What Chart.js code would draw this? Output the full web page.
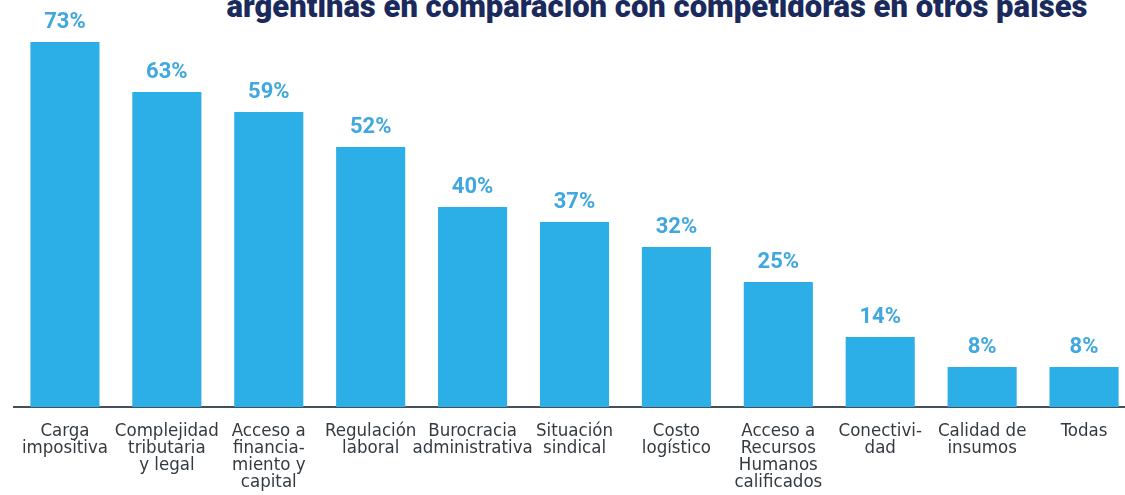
<!DOCTYPE html>
<html>
<head>
<meta charset="utf-8">
<script src="https://cdn.jsdelivr.net/npm/chart.js@4"></script>
<style>
  html, body { margin: 0; padding: 0; background: #fff; overflow: hidden; width: 1125px; height: 495px; }
  #titulo {
    position: absolute; top: -9px; left: 657px; transform: translateX(-50%);
    white-space: nowrap; font-family: Roboto, sans-serif; font-weight: 900;
    font-size: 31px; line-height: 31px; color: #1b2a5c; letter-spacing: 0px;
  }
  #caja { position: absolute; left: 0; top: 0; width: 1140px; height: 495px; }
</style>
</head>
<body>
<div id="titulo">argentinas en comparación con competidoras en otros países</div>
<div id="caja"><canvas id="grafico"></canvas></div>
<script>
// datos del grafico
var categorias = [
  ["Carga", "impositiva"],
  ["Complejidad", "tributaria", "y legal"],
  ["Acceso a", "financia-", "miento y", "capital"],
  ["Regulación", "laboral"],
  ["Burocracia", "administrativa"],
  ["Situación", "sindical"],
  ["Costo", "logístico"],
  ["Acceso a", "Recursos", "Humanos", "calificados"],
  ["Conectivi-", "dad"],
  ["Calidad de", "insumos"],
  ["Todas"]
];
var porcentajes = [73, 63, 59, 52, 40, 37, 32, 25, 14, 8, 8];

var colorBarra = "#2caee6";
var colorEtiqueta = "#40a8de";

// etiquetas arriba de cada barra
var etiquetas = {
  id: "etiquetas",
  afterDatasetsDraw: function(chart) {
    var ctx = chart.ctx;
    var meta = chart.getDatasetMeta(0);
    ctx.save();
    ctx.font = "bold 22px Roboto, sans-serif";
    ctx.fillStyle = colorEtiqueta;
    ctx.textAlign = "center";
    ctx.textBaseline = "bottom";
    meta.data.forEach(function(barra, i) {
      ctx.fillText(porcentajes[i] + "%", barra.x, barra.y - 9);
    });
    ctx.restore();
  }
};

const grafico = new Chart("grafico", {
  type: "bar",
  data: {
    labels: categorias,
    datasets: [{
      data: porcentajes,
      backgroundColor: colorBarra,
      borderWidth: 0,
      categoryPercentage: 1,
      barPercentage: 0.678
    }]
  },
  options: {
    responsive: true,
    maintainAspectRatio: false,
    animation: false,
    layout: { padding: { left: 14, right: 5, top: 7, bottom: 0 } },
    plugins: {
      legend: { display: false },
      tooltip: { enabled: false }
    },
    scales: {
      x: {
        grid: { display: false, drawTicks: false },
        border: { display: true, color: "#46505a", width: 2 },
        afterFit: function(escala) { escala.height = 88; },
        ticks: {
          color: "#333a40",
          padding: 16,
          maxRotation: 0,
          autoSkip: false,
          font: { family: "'DejaVu Sans Condensed', 'DejaVu Sans', sans-serif", size: 18.5, lineHeight: 0.92 }
        }
      },
      y: {
        display: false,
        min: 0,
        max: 80
      }
    }
  },
  plugins: [etiquetas]
});
</script>
</body>
</html>
